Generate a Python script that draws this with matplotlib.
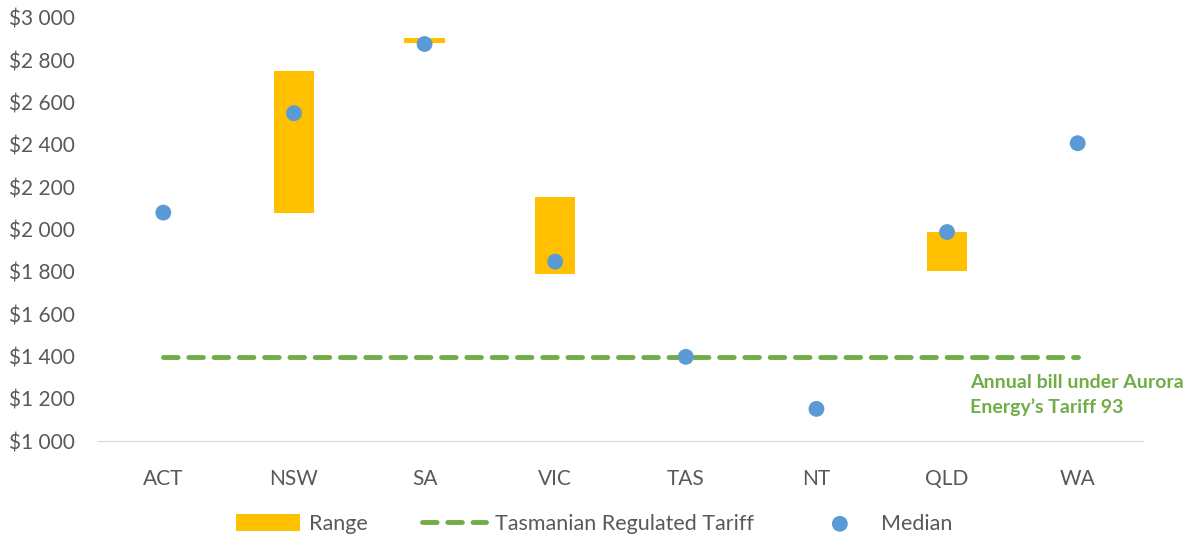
import matplotlib
matplotlib.use("Agg")
import matplotlib.pyplot as plt
from matplotlib.ticker import FuncFormatter
import numpy as np

plt.rcParams['font.family'] = ['Lato', 'DejaVu Sans']

states = ["ACT", "NSW", "SA", "VIC", "TAS", "NT", "QLD", "WA"]
range_low = [np.nan, 2080, 2880, 1790, np.nan, np.nan, 1805, np.nan]
range_high = [np.nan, 2750, 2907, 2155, np.nan, np.nan, 1988, np.nan]
median = [2080, 2550, 2877, 1848, 1398, 1152, 1988, 2408]
tariff = 1397
yticks = list(range(1000, 3001, 200))

fig = plt.figure(figsize=(11.88, 5.36), dpi=100)
ax = fig.add_axes([98/1188, 1 - 441/536, (1143-98)/1188, (441-18)/536])

x = np.arange(len(states))
lo = np.array(range_low, dtype=float)
hi = np.array(range_high, dtype=float)
h_bar = ax.bar(x, hi - lo, bottom=lo, width=0.31, color="#FFC000", label="Range", zorder=2)
h_line, = ax.plot(x, [tariff]*len(x), color="#70AD47", lw=3.5, dashes=(3, 2.2),
                  dash_capstyle="round", label="Tasmanian Regulated Tariff", zorder=3)
h_sc = ax.scatter(x, median, s=130, color="#5B9BD5", label="Median", zorder=4, edgecolors="none")

ax.set_xlim(-0.5, len(states) - 0.5)
ax.set_ylim(1000, 3000)
ax.set_yticks(yticks)
ax.yaxis.set_major_formatter(FuncFormatter(lambda v, p: "$" + f"{int(v):,}".replace(",", " ")))
ax.set_xticks(x)
ax.set_xticklabels(states)
for s in ["top", "right", "left"]:
    ax.spines[s].set_visible(False)
ax.spines["bottom"].set_color("#D9D9D9")
ax.tick_params(axis="both", length=0, labelsize=15, colors="#595959")
ax.tick_params(axis="x", pad=20)
ax.tick_params(axis="y", pad=17)

ax.text(970/1188, 1 - 395/536, "Annual bill under Aurora\nEnergy\u2019s Tariff 93",
        transform=fig.transFigure, color="#70AD47", fontsize=14, fontweight="bold",
        va="center", ha="left", linespacing=1.45)

leg = fig.legend([h_bar, h_line, h_sc], ["Range", "Tasmanian Regulated Tariff", "Median"],
                 loc="center", bbox_to_anchor=(0.5, 1 - 524/536), ncol=3, frameon=False,
                 fontsize=15.5, handlelength=3.0, handleheight=0.8, columnspacing=2.5,
                 handletextpad=0.4)
for t in leg.get_texts():
    t.set_color("#595959")

fig.savefig("out.png", dpi=100)
